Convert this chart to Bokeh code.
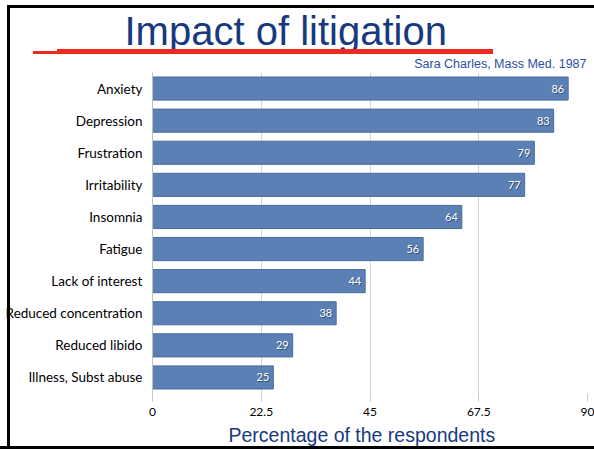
from bokeh.plotting import figure
from bokeh.models import (ColumnDataSource, FixedTicker, Range1d, FactorRange, Title,
                          InlineStyleSheet)
from bokeh.core.properties import value
from bokeh.embed import file_html
from bokeh.resources import INLINE

# Reported reactions of physicians to litigation (% of respondents)
symptoms = ["Anxiety", "Depression", "Frustration", "Irritability", "Insomnia",
            "Fatigue", "Lack of interest", "Reduced concentration",
            "Reduced libido", "Illness, Subst abuse"]
percent = [86, 83, 79, 77, 64, 56, 44, 38, 29, 25]
x_ticks = [0, 22.5, 45, 67.5, 90]

W, H = 594, 449
LEFT, RIGHT, TOP, BOTTOM = 152, 7, 72, 56
BAR = "#5b80b6"
NAVY = "#18397f"
RED = "#ee2a1e"
BODY_FONT = "Lato"
HEAD_FONT = "Liberation Sans"

src = ColumnDataSource(dict(
    symptom=symptoms,
    pct=percent,
    label=[str(v) for v in percent],
))

p = figure(width=W, height=H, output_backend="svg", toolbar_location=None,
           y_range=FactorRange(*reversed(symptoms)), x_range=Range1d(0, 90),
           min_border_left=LEFT, min_border_right=RIGHT,
           min_border_top=TOP, min_border_bottom=BOTTOM)
p.outline_line_color = None
p.background_fill_color = "white"
p.border_fill_color = "white"

p.hbar(y="symptom", right="pct", left=0, height=0.72, source=src,
       fill_color=BAR, line_color="#4a6b9c", line_width=1)

# value labels with a soft dark shadow
p.text(x="pct", y="symptom", text="label", source=src, x_offset=-3, y_offset=1,
       text_align="right", text_baseline="middle", text_font=value(BODY_FONT),
       text_font_size="11px", text_color="#2c3e5c", text_alpha=0.8)
p.text(x="pct", y="symptom", text="label", source=src, x_offset=-4,
       text_align="right", text_baseline="middle", text_font=value(BODY_FONT),
       text_font_size="11px", text_color="white")

# x axis
xa = p.xaxis[0]
xa.ticker = FixedTicker(ticks=x_ticks)
xa.major_label_overrides = {0: "0", 22.5: "22.5", 45: "45", 67.5: "67.5", 90: "90"}
xa.axis_line_color = None
xa.major_tick_line_color = "#c8c8c8"
xa.major_tick_out = 8
xa.major_tick_in = 0
xa.minor_tick_line_color = None
xa.major_label_text_font = BODY_FONT
xa.major_label_text_font_size = "12px"
xa.major_label_text_color = "black"
xa.major_label_standoff = 6

# y axis
ya = p.yaxis[0]
ya.axis_line_color = "#c0c0c0"
ya.major_tick_line_color = None
ya.major_tick_out = 0
ya.major_tick_in = 0
ya.minor_tick_line_color = None
ya.major_label_text_font = BODY_FONT
ya.major_label_text_font_size = "13.5px"
ya.major_label_text_color = "black"
ya.major_label_standoff = 10

p.ygrid.grid_line_color = None
p.xgrid.grid_line_color = "#d4d4d4"
p.xgrid.ticker = FixedTicker(ticks=x_ticks)

# heading (outermost) and citation just above the chart
p.title.text = "Impact of litigation"
p.title.align = "left"
p.title.offset = -28
p.title.text_font = HEAD_FONT
p.title.text_font_style = "normal"
p.title.text_font_size = "40px"
p.title.text_color = NAVY
p.title.standoff = 0

p.add_layout(Title(text="Sara Charles, Mass Med. 1987", align="right", offset=1,
                   text_font=HEAD_FONT, text_font_style="normal",
                   text_font_size="12.5px", text_color="#2b4f9e", standoff=4), "above")

# axis title, its lower part hidden behind the slide frame
p.add_layout(Title(text="Percentage of the respondents", align="left", offset=76,
                   text_font=HEAD_FONT, text_font_style="normal",
                   text_font_size="19.5px", text_color=NAVY, standoff=7), "below")

# red rule under the heading and the black slide frame (pure decoration,
# pinned to the window so it never adds scrollable overflow)
p.stylesheets = [InlineStyleSheet(css=f"""
:host::after {{
  content: ""; position: fixed; z-index: 5; pointer-events: none;
  left: 0; top: 0; width: {W}px; height: {H}px;
  background:
    linear-gradient({RED}, {RED}) 57px 49px / 436px 5px no-repeat,
    linear-gradient({RED}, {RED}) 33px 51px / 24px 3px no-repeat,
    linear-gradient(#000, #000) 7px 5px / 3px {H - 5}px no-repeat,
    linear-gradient(#000, #000) 7px 5px / {W - 7}px 3px no-repeat,
    linear-gradient(#000, #000) 0 {H - 3}px / {W}px 3px no-repeat;
}}
""")]

open("out.html", "w").write(file_html(p, INLINE))
